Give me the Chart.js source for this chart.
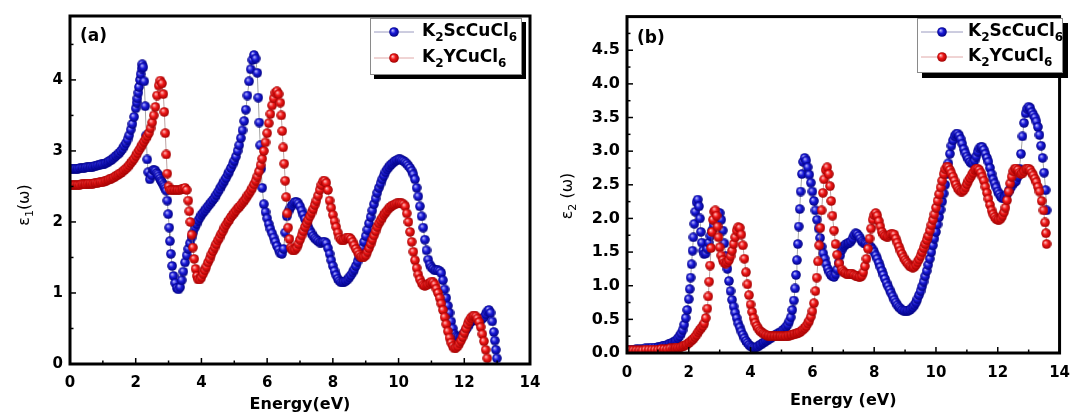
<!DOCTYPE html>
<html lang="en">
<head>
<meta charset="UTF-8">
<title>Dielectric function</title>
<script src="https://cdn.jsdelivr.net/npm/chart.js"></script>
<style>
  body { margin: 0; background: #fff; width: 1081px; height: 417px; overflow: hidden; position: relative; }
  canvas { position: absolute; top: 0; }
  #chartA { left: 0; }
  #chartB { left: 560px; }
</style>
</head>
<body>
<canvas id="chartA" width="560" height="417"></canvas>
<canvas id="chartB" width="521" height="417"></canvas>
<script>
// series names (digits are drawn as subscripts)
const seriesNames = ['K2ScCuCl6', 'K2YCuCl6']

// (a) real part eps1, [energy eV, value]
const scEps1 = [
  [0, 2.75], [0.05, 2.75], [0.1, 2.75], [0.15, 2.75], [0.2, 2.75], [0.25, 2.75], [0.3, 2.76], [0.35, 2.76],
  [0.4, 2.76], [0.45, 2.76], [0.5, 2.77], [0.55, 2.77], [0.6, 2.77], [0.65, 2.78], [0.7, 2.78], [0.75, 2.79],
  [0.8, 2.79], [0.85, 2.80], [0.9, 2.80], [0.95, 2.81], [1.0, 2.81], [1.05, 2.82], [1.1, 2.83], [1.15, 2.84],
  [1.2, 2.86], [1.25, 2.87], [1.3, 2.89], [1.35, 2.91], [1.4, 2.93], [1.45, 2.95], [1.5, 2.97], [1.55, 3.00],
  [1.6, 3.03], [1.65, 3.07], [1.7, 3.11], [1.75, 3.16], [1.8, 3.22], [1.85, 3.30], [1.9, 3.38], [1.95, 3.48],
  [2.0, 3.60], [2.03, 3.68], [2.05, 3.74], [2.08, 3.82], [2.1, 3.90], [2.13, 4.00], [2.15, 4.08], [2.18, 4.16],
  [2.2, 4.22], [2.23, 4.18], [2.26, 3.98], [2.29, 3.63], [2.32, 3.22], [2.35, 2.88], [2.38, 2.70], [2.43, 2.60],
  [2.48, 2.66], [2.53, 2.73], [2.57, 2.73], [2.6, 2.72], [2.64, 2.69], [2.67, 2.67], [2.7, 2.64], [2.74, 2.61],
  [2.77, 2.58], [2.8, 2.56], [2.84, 2.53], [2.87, 2.50], [2.9, 2.47], [2.93, 2.44], [2.96, 2.30], [2.99, 2.11],
  [3.02, 1.92], [3.04, 1.73], [3.07, 1.55], [3.11, 1.38], [3.15, 1.24], [3.2, 1.14], [3.25, 1.07], [3.3, 1.05],
  [3.35, 1.08], [3.4, 1.18], [3.45, 1.30], [3.5, 1.43], [3.55, 1.53], [3.6, 1.62], [3.65, 1.70], [3.7, 1.78],
  [3.75, 1.85], [3.8, 1.92], [3.85, 1.97], [3.9, 2.02], [3.95, 2.06], [4.0, 2.10], [4.05, 2.13], [4.1, 2.16],
  [4.15, 2.19], [4.2, 2.22], [4.25, 2.25], [4.3, 2.28], [4.35, 2.31], [4.4, 2.34], [4.45, 2.38], [4.5, 2.42],
  [4.55, 2.46], [4.6, 2.50], [4.65, 2.54], [4.7, 2.58], [4.75, 2.62], [4.8, 2.67], [4.85, 2.71], [4.9, 2.76],
  [4.95, 2.81], [5.0, 2.86], [5.05, 2.92], [5.1, 3.00], [5.15, 3.08], [5.2, 3.18], [5.25, 3.29], [5.3, 3.42],
  [5.35, 3.58], [5.4, 3.78], [5.45, 3.98], [5.5, 4.15], [5.55, 4.28], [5.6, 4.35], [5.65, 4.30], [5.7, 4.10],
  [5.73, 3.75], [5.76, 3.40], [5.79, 3.08], [5.82, 2.75], [5.85, 2.48], [5.9, 2.25], [5.95, 2.14], [6.0, 2.05],
  [6.05, 1.97], [6.1, 1.90], [6.15, 1.84], [6.2, 1.78], [6.25, 1.72], [6.3, 1.66], [6.35, 1.61], [6.4, 1.56],
  [6.45, 1.55], [6.5, 1.62], [6.55, 1.85], [6.6, 2.08], [6.65, 2.15], [6.7, 2.20], [6.75, 2.23], [6.8, 2.26],
  [6.85, 2.28], [6.9, 2.28], [6.95, 2.26], [7.0, 2.22], [7.05, 2.16], [7.1, 2.10], [7.15, 2.04], [7.2, 1.98],
  [7.25, 1.93], [7.3, 1.88], [7.35, 1.84], [7.4, 1.80], [7.45, 1.77], [7.5, 1.75], [7.55, 1.73], [7.6, 1.71],
  [7.65, 1.71], [7.7, 1.72], [7.75, 1.72], [7.8, 1.70], [7.85, 1.63], [7.9, 1.55], [7.95, 1.46], [8.0, 1.38],
  [8.05, 1.31], [8.1, 1.25], [8.15, 1.20], [8.2, 1.17], [8.25, 1.15], [8.3, 1.15], [8.35, 1.16], [8.4, 1.17],
  [8.45, 1.19], [8.5, 1.22], [8.55, 1.25], [8.6, 1.29], [8.65, 1.33], [8.7, 1.38], [8.75, 1.44], [8.8, 1.50],
  [8.85, 1.57], [8.9, 1.64], [8.95, 1.72], [9.0, 1.80], [9.05, 1.89], [9.1, 1.98], [9.15, 2.07], [9.2, 2.16],
  [9.25, 2.25], [9.3, 2.33], [9.35, 2.41], [9.4, 2.48], [9.45, 2.54], [9.5, 2.60], [9.55, 2.65], [9.6, 2.70],
  [9.65, 2.74], [9.7, 2.77], [9.75, 2.80], [9.8, 2.82], [9.85, 2.84], [9.9, 2.86], [9.95, 2.87], [10.0, 2.88],
  [10.05, 2.88], [10.1, 2.87], [10.15, 2.86], [10.2, 2.84], [10.25, 2.82], [10.3, 2.79], [10.35, 2.76], [10.4, 2.72],
  [10.45, 2.67], [10.5, 2.60], [10.55, 2.48], [10.6, 2.36], [10.65, 2.22], [10.7, 2.08], [10.75, 1.92], [10.8, 1.75],
  [10.85, 1.60], [10.9, 1.47], [10.95, 1.40], [11.0, 1.36], [11.05, 1.34], [11.1, 1.32], [11.15, 1.32], [11.2, 1.32],
  [11.25, 1.31], [11.3, 1.28], [11.35, 1.18], [11.4, 1.05], [11.45, 0.93], [11.5, 0.82], [11.55, 0.72], [11.6, 0.60],
  [11.65, 0.50], [11.7, 0.42], [11.75, 0.39], [11.8, 0.38], [11.85, 0.37], [11.9, 0.38], [11.95, 0.41], [12.0, 0.44],
  [12.05, 0.48], [12.1, 0.52], [12.15, 0.56], [12.2, 0.60], [12.25, 0.61], [12.3, 0.62], [12.35, 0.62], [12.4, 0.62],
  [12.45, 0.62], [12.5, 0.62], [12.55, 0.64], [12.6, 0.66], [12.65, 0.70], [12.7, 0.74], [12.75, 0.76], [12.8, 0.72],
  [12.85, 0.60], [12.9, 0.45], [12.93, 0.33], [12.96, 0.20], [12.99, 0.08]
]
const yEps1 = [
  [0, 2.52], [0.05, 2.52], [0.1, 2.52], [0.15, 2.52], [0.2, 2.52], [0.25, 2.52], [0.3, 2.52], [0.35, 2.53],
  [0.4, 2.53], [0.45, 2.53], [0.5, 2.53], [0.55, 2.54], [0.6, 2.54], [0.65, 2.54], [0.7, 2.54], [0.75, 2.55],
  [0.8, 2.55], [0.85, 2.55], [0.9, 2.56], [0.95, 2.56], [1.0, 2.56], [1.05, 2.57], [1.1, 2.58], [1.15, 2.59],
  [1.2, 2.60], [1.25, 2.61], [1.3, 2.62], [1.35, 2.63], [1.4, 2.65], [1.45, 2.66], [1.5, 2.68], [1.55, 2.69],
  [1.6, 2.71], [1.65, 2.73], [1.7, 2.75], [1.75, 2.77], [1.8, 2.80], [1.85, 2.83], [1.9, 2.86], [1.95, 2.89],
  [2.0, 2.93], [2.05, 2.97], [2.1, 3.01], [2.15, 3.05], [2.2, 3.09], [2.25, 3.13], [2.3, 3.17], [2.35, 3.21],
  [2.4, 3.25], [2.45, 3.32], [2.5, 3.40], [2.55, 3.50], [2.6, 3.62], [2.65, 3.78], [2.7, 3.92], [2.75, 3.99],
  [2.8, 3.95], [2.84, 3.80], [2.87, 3.55], [2.9, 3.25], [2.93, 2.95], [2.96, 2.68], [3.0, 2.50], [3.05, 2.45],
  [3.1, 2.45], [3.15, 2.45], [3.2, 2.45], [3.25, 2.45], [3.3, 2.45], [3.35, 2.45], [3.4, 2.46], [3.45, 2.47],
  [3.5, 2.48], [3.55, 2.45], [3.6, 2.30], [3.63, 2.15], [3.66, 2.00], [3.7, 1.82], [3.74, 1.64], [3.78, 1.48],
  [3.82, 1.34], [3.86, 1.24], [3.9, 1.19], [3.95, 1.19], [4.0, 1.22], [4.05, 1.27], [4.1, 1.32], [4.15, 1.37],
  [4.2, 1.43], [4.25, 1.48], [4.3, 1.54], [4.35, 1.59], [4.4, 1.64], [4.45, 1.69], [4.5, 1.74], [4.55, 1.78],
  [4.6, 1.83], [4.65, 1.87], [4.7, 1.92], [4.75, 1.96], [4.8, 2.00], [4.85, 2.03], [4.9, 2.07], [4.95, 2.10],
  [5.0, 2.13], [5.05, 2.16], [5.1, 2.19], [5.15, 2.21], [5.2, 2.24], [5.25, 2.27], [5.3, 2.30], [5.35, 2.33],
  [5.4, 2.37], [5.45, 2.40], [5.5, 2.44], [5.55, 2.48], [5.6, 2.53], [5.65, 2.58], [5.7, 2.64], [5.75, 2.71],
  [5.8, 2.80], [5.85, 2.89], [5.9, 3.00], [5.95, 3.12], [6.0, 3.25], [6.05, 3.39], [6.1, 3.52], [6.15, 3.64],
  [6.2, 3.74], [6.25, 3.82], [6.3, 3.84], [6.35, 3.80], [6.4, 3.68], [6.43, 3.50], [6.46, 3.28], [6.49, 3.05],
  [6.52, 2.82], [6.55, 2.58], [6.58, 2.35], [6.61, 2.12], [6.64, 1.92], [6.68, 1.76], [6.72, 1.64], [6.76, 1.61],
  [6.8, 1.60], [6.85, 1.61], [6.9, 1.64], [6.95, 1.69], [7.0, 1.75], [7.05, 1.81], [7.1, 1.87], [7.15, 1.93],
  [7.2, 1.98], [7.25, 2.03], [7.3, 2.08], [7.35, 2.13], [7.4, 2.18], [7.45, 2.24], [7.5, 2.30], [7.55, 2.37],
  [7.6, 2.45], [7.65, 2.52], [7.7, 2.57], [7.75, 2.58], [7.8, 2.55], [7.85, 2.45], [7.9, 2.30], [7.95, 2.20],
  [8.0, 2.10], [8.05, 2.01], [8.1, 1.93], [8.15, 1.85], [8.2, 1.78], [8.25, 1.75], [8.3, 1.74], [8.35, 1.75],
  [8.4, 1.77], [8.45, 1.78], [8.5, 1.78], [8.55, 1.76], [8.6, 1.72], [8.65, 1.67], [8.7, 1.62], [8.75, 1.58],
  [8.8, 1.54], [8.85, 1.51], [8.9, 1.50], [8.95, 1.51], [9.0, 1.53], [9.05, 1.58], [9.1, 1.63], [9.15, 1.69],
  [9.2, 1.75], [9.25, 1.81], [9.3, 1.87], [9.35, 1.93], [9.4, 1.98], [9.45, 2.02], [9.5, 2.06], [9.55, 2.10],
  [9.6, 2.13], [9.65, 2.16], [9.7, 2.19], [9.75, 2.21], [9.8, 2.23], [9.85, 2.24], [9.9, 2.25], [9.95, 2.26],
  [10.0, 2.26], [10.05, 2.26], [10.1, 2.26], [10.15, 2.25], [10.2, 2.22], [10.25, 2.12], [10.3, 2.00], [10.35, 1.86],
  [10.4, 1.72], [10.45, 1.58], [10.5, 1.46], [10.55, 1.35], [10.6, 1.26], [10.65, 1.19], [10.7, 1.14], [10.75, 1.11],
  [10.8, 1.10], [10.85, 1.11], [10.9, 1.12], [10.95, 1.14], [11.0, 1.16], [11.05, 1.15], [11.1, 1.12], [11.15, 1.06],
  [11.2, 1.00], [11.25, 0.93], [11.3, 0.85], [11.35, 0.76], [11.4, 0.66], [11.45, 0.56], [11.5, 0.46], [11.55, 0.37],
  [11.6, 0.30], [11.65, 0.25], [11.7, 0.22], [11.75, 0.23], [11.8, 0.25], [11.85, 0.29], [11.9, 0.33], [11.95, 0.38],
  [12.0, 0.44], [12.05, 0.50], [12.1, 0.56], [12.15, 0.61], [12.2, 0.65], [12.25, 0.67], [12.3, 0.68], [12.35, 0.67],
  [12.4, 0.64], [12.45, 0.59], [12.5, 0.52], [12.55, 0.42], [12.6, 0.32], [12.65, 0.20], [12.7, 0.08], [12.75, -0.05]
]

// (b) imaginary part eps2, [energy eV, value]
const scEps2 = [
  [0, 0.05], [0.1, 0.05], [0.2, 0.05], [0.3, 0.06], [0.4, 0.06], [0.5, 0.06], [0.6, 0.07], [0.7, 0.07],
  [0.8, 0.08], [0.9, 0.08], [1.0, 0.09], [1.05, 0.09], [1.1, 0.09], [1.15, 0.10], [1.2, 0.11], [1.25, 0.11],
  [1.3, 0.12], [1.35, 0.13], [1.4, 0.14], [1.45, 0.15], [1.5, 0.16], [1.55, 0.17], [1.6, 0.19], [1.65, 0.22],
  [1.7, 0.25], [1.75, 0.29], [1.8, 0.34], [1.85, 0.42], [1.9, 0.52], [1.95, 0.64], [2.0, 0.80], [2.03, 0.95],
  [2.06, 1.12], [2.09, 1.32], [2.12, 1.52], [2.15, 1.72], [2.18, 1.92], [2.21, 2.10], [2.25, 2.24], [2.29, 2.28],
  [2.33, 2.18], [2.36, 2.00], [2.39, 1.80], [2.42, 1.64], [2.46, 1.52], [2.5, 1.47], [2.55, 1.48], [2.6, 1.55],
  [2.65, 1.64], [2.7, 1.74], [2.75, 1.82], [2.8, 1.90], [2.85, 1.97], [2.9, 2.04], [2.95, 2.08], [3.0, 2.08],
  [3.05, 1.98], [3.1, 1.82], [3.15, 1.63], [3.2, 1.44], [3.25, 1.25], [3.3, 1.07], [3.35, 0.92], [3.4, 0.79],
  [3.45, 0.69], [3.5, 0.60], [3.55, 0.52], [3.6, 0.44], [3.65, 0.38], [3.7, 0.32], [3.75, 0.27], [3.8, 0.22],
  [3.85, 0.18], [3.9, 0.15], [3.95, 0.12], [4.0, 0.10], [4.05, 0.09], [4.1, 0.08], [4.15, 0.08], [4.2, 0.09],
  [4.25, 0.10], [4.3, 0.12], [4.35, 0.13], [4.4, 0.15], [4.45, 0.16], [4.5, 0.18], [4.55, 0.19], [4.6, 0.21],
  [4.65, 0.22], [4.7, 0.24], [4.75, 0.25], [4.8, 0.27], [4.85, 0.28], [4.9, 0.29], [4.95, 0.30], [5.0, 0.32],
  [5.05, 0.34], [5.1, 0.36], [5.15, 0.39], [5.2, 0.42], [5.25, 0.47], [5.3, 0.53], [5.35, 0.64], [5.4, 0.78],
  [5.44, 0.96], [5.47, 1.16], [5.5, 1.38], [5.53, 1.62], [5.56, 1.88], [5.59, 2.14], [5.62, 2.40], [5.66, 2.66],
  [5.7, 2.84], [5.75, 2.90], [5.8, 2.86], [5.85, 2.76], [5.9, 2.65], [5.95, 2.53], [6.0, 2.40], [6.05, 2.26],
  [6.1, 2.12], [6.15, 1.98], [6.2, 1.85], [6.25, 1.71], [6.3, 1.58], [6.35, 1.48], [6.4, 1.40], [6.45, 1.32],
  [6.5, 1.25], [6.55, 1.20], [6.6, 1.16], [6.65, 1.14], [6.7, 1.13], [6.75, 1.17], [6.8, 1.24], [6.85, 1.34],
  [6.9, 1.45], [6.95, 1.53], [7.0, 1.58], [7.05, 1.60], [7.1, 1.62], [7.15, 1.63], [7.2, 1.64], [7.25, 1.66],
  [7.3, 1.70], [7.35, 1.75], [7.4, 1.78], [7.45, 1.77], [7.5, 1.74], [7.55, 1.70], [7.6, 1.66], [7.65, 1.64],
  [7.7, 1.63], [7.75, 1.62], [7.8, 1.60], [7.85, 1.59], [7.9, 1.57], [7.95, 1.54], [8.0, 1.50], [8.05, 1.45],
  [8.1, 1.40], [8.15, 1.34], [8.2, 1.28], [8.25, 1.22], [8.3, 1.16], [8.35, 1.10], [8.4, 1.04], [8.45, 0.99],
  [8.5, 0.94], [8.55, 0.89], [8.6, 0.84], [8.65, 0.79], [8.7, 0.75], [8.75, 0.71], [8.8, 0.68], [8.85, 0.66],
  [8.9, 0.64], [8.95, 0.63], [9.0, 0.63], [9.05, 0.63], [9.1, 0.63], [9.15, 0.64], [9.2, 0.66], [9.25, 0.68],
  [9.3, 0.71], [9.35, 0.75], [9.4, 0.80], [9.45, 0.86], [9.5, 0.92], [9.55, 0.99], [9.6, 1.06], [9.65, 1.14],
  [9.7, 1.22], [9.75, 1.31], [9.8, 1.40], [9.85, 1.50], [9.9, 1.60], [9.95, 1.70], [10.0, 1.80], [10.05, 1.91],
  [10.1, 2.02], [10.15, 2.13], [10.2, 2.25], [10.25, 2.37], [10.3, 2.50], [10.35, 2.66], [10.4, 2.82], [10.45, 2.96],
  [10.5, 3.08], [10.55, 3.16], [10.6, 3.22], [10.65, 3.25], [10.7, 3.26], [10.75, 3.23], [10.8, 3.18], [10.85, 3.11],
  [10.9, 3.03], [10.95, 2.97], [11.0, 2.92], [11.05, 2.88], [11.1, 2.84], [11.15, 2.82], [11.2, 2.82], [11.25, 2.86],
  [11.3, 2.92], [11.35, 2.99], [11.4, 3.04], [11.45, 3.06], [11.5, 3.06], [11.55, 3.02], [11.6, 2.96], [11.65, 2.90],
  [11.7, 2.84], [11.75, 2.75], [11.8, 2.66], [11.85, 2.58], [11.9, 2.52], [11.95, 2.46], [12.0, 2.40], [12.05, 2.36],
  [12.1, 2.32], [12.15, 2.30], [12.2, 2.30], [12.25, 2.33], [12.3, 2.36], [12.35, 2.40], [12.4, 2.44], [12.45, 2.48],
  [12.5, 2.52], [12.55, 2.54], [12.6, 2.56], [12.65, 2.62], [12.7, 2.74], [12.75, 2.96], [12.8, 3.22], [12.85, 3.42],
  [12.9, 3.56], [12.95, 3.63], [13.0, 3.66], [13.05, 3.64], [13.1, 3.58], [13.15, 3.54], [13.2, 3.50], [13.25, 3.44],
  [13.3, 3.36], [13.35, 3.24], [13.4, 3.08], [13.45, 2.90], [13.5, 2.68], [13.55, 2.42], [13.58, 2.12]
]
const yEps2 = [
  [0, 0.04], [0.1, 0.04], [0.2, 0.04], [0.3, 0.04], [0.4, 0.04], [0.5, 0.04], [0.6, 0.05], [0.7, 0.05],
  [0.8, 0.05], [0.9, 0.05], [1.0, 0.05], [1.1, 0.06], [1.2, 0.06], [1.3, 0.06], [1.4, 0.07], [1.5, 0.07],
  [1.55, 0.07], [1.6, 0.08], [1.65, 0.08], [1.7, 0.08], [1.75, 0.09], [1.8, 0.10], [1.85, 0.11], [1.9, 0.12],
  [1.95, 0.13], [2.0, 0.15], [2.05, 0.17], [2.1, 0.19], [2.15, 0.21], [2.2, 0.24], [2.25, 0.27], [2.3, 0.31],
  [2.35, 0.34], [2.4, 0.37], [2.45, 0.40], [2.5, 0.44], [2.55, 0.52], [2.6, 0.66], [2.63, 0.84], [2.66, 1.06],
  [2.69, 1.30], [2.72, 1.56], [2.75, 1.80], [2.78, 1.98], [2.82, 2.10], [2.86, 2.12], [2.9, 2.04], [2.93, 1.88],
  [2.96, 1.72], [3.0, 1.57], [3.05, 1.45], [3.1, 1.38], [3.15, 1.34], [3.2, 1.33], [3.25, 1.35], [3.3, 1.38],
  [3.35, 1.44], [3.4, 1.52], [3.45, 1.62], [3.5, 1.72], [3.55, 1.82], [3.6, 1.87], [3.65, 1.86], [3.7, 1.76],
  [3.75, 1.60], [3.8, 1.40], [3.85, 1.20], [3.9, 1.02], [3.95, 0.86], [4.0, 0.72], [4.05, 0.61], [4.1, 0.52],
  [4.15, 0.45], [4.2, 0.40], [4.25, 0.36], [4.3, 0.33], [4.35, 0.31], [4.4, 0.29], [4.45, 0.28], [4.5, 0.27],
  [4.55, 0.26], [4.6, 0.26], [4.65, 0.25], [4.7, 0.25], [4.75, 0.25], [4.8, 0.25], [4.85, 0.25], [4.9, 0.25],
  [4.95, 0.25], [5.0, 0.25], [5.05, 0.25], [5.1, 0.25], [5.15, 0.25], [5.2, 0.26], [5.25, 0.26], [5.3, 0.27],
  [5.35, 0.27], [5.4, 0.28], [5.45, 0.28], [5.5, 0.29], [5.55, 0.30], [5.6, 0.31], [5.65, 0.33], [5.7, 0.35],
  [5.75, 0.37], [5.8, 0.40], [5.85, 0.44], [5.9, 0.48], [5.95, 0.54], [6.0, 0.62], [6.05, 0.74], [6.1, 0.92],
  [6.14, 1.12], [6.18, 1.36], [6.22, 1.60], [6.26, 1.86], [6.3, 2.12], [6.34, 2.38], [6.38, 2.58], [6.43, 2.72],
  [6.48, 2.76], [6.53, 2.66], [6.57, 2.48], [6.61, 2.26], [6.65, 2.04], [6.7, 1.82], [6.75, 1.62], [6.8, 1.46],
  [6.87, 1.33], [6.95, 1.24], [7.0, 1.21], [7.05, 1.19], [7.1, 1.18], [7.15, 1.17], [7.2, 1.17], [7.25, 1.18],
  [7.3, 1.17], [7.35, 1.16], [7.4, 1.15], [7.45, 1.14], [7.5, 1.13], [7.55, 1.13], [7.6, 1.15], [7.65, 1.20],
  [7.7, 1.29], [7.75, 1.40], [7.8, 1.55], [7.85, 1.70], [7.9, 1.85], [7.95, 1.98], [8.0, 2.05], [8.05, 2.08],
  [8.1, 2.04], [8.15, 1.96], [8.2, 1.88], [8.25, 1.80], [8.3, 1.76], [8.35, 1.74], [8.4, 1.73], [8.45, 1.73],
  [8.5, 1.75], [8.55, 1.77], [8.6, 1.77], [8.65, 1.76], [8.7, 1.70], [8.75, 1.64], [8.8, 1.58], [8.85, 1.52],
  [8.9, 1.47], [8.95, 1.42], [9.0, 1.38], [9.05, 1.35], [9.1, 1.32], [9.15, 1.29], [9.2, 1.28], [9.25, 1.27],
  [9.3, 1.28], [9.35, 1.31], [9.4, 1.35], [9.45, 1.39], [9.5, 1.44], [9.55, 1.50], [9.6, 1.56], [9.65, 1.62],
  [9.7, 1.68], [9.75, 1.74], [9.8, 1.82], [9.85, 1.90], [9.9, 1.98], [9.95, 2.06], [10.0, 2.16], [10.05, 2.26],
  [10.1, 2.36], [10.15, 2.46], [10.2, 2.56], [10.25, 2.66], [10.3, 2.73], [10.35, 2.77], [10.4, 2.76], [10.45, 2.72],
  [10.5, 2.67], [10.55, 2.62], [10.6, 2.56], [10.65, 2.50], [10.7, 2.45], [10.75, 2.42], [10.8, 2.40], [10.85, 2.40],
  [10.9, 2.42], [10.95, 2.46], [11.0, 2.51], [11.05, 2.56], [11.1, 2.60], [11.15, 2.64], [11.2, 2.68], [11.25, 2.72],
  [11.3, 2.74], [11.35, 2.74], [11.4, 2.72], [11.45, 2.68], [11.5, 2.62], [11.55, 2.56], [11.6, 2.47], [11.65, 2.38],
  [11.7, 2.29], [11.75, 2.20], [11.8, 2.12], [11.85, 2.06], [11.9, 2.02], [11.95, 1.99], [12.0, 1.98], [12.05, 1.98],
  [12.1, 2.00], [12.15, 2.04], [12.2, 2.09], [12.25, 2.16], [12.3, 2.27], [12.35, 2.40], [12.4, 2.52], [12.45, 2.62],
  [12.5, 2.70], [12.55, 2.74], [12.6, 2.74], [12.65, 2.72], [12.7, 2.68], [12.75, 2.66], [12.8, 2.67], [12.85, 2.70],
  [12.9, 2.73], [12.95, 2.74], [13.0, 2.74], [13.05, 2.72], [13.1, 2.68], [13.15, 2.64], [13.2, 2.59], [13.25, 2.54],
  [13.3, 2.47], [13.35, 2.40], [13.42, 2.26], [13.48, 2.12], [13.53, 1.94], [13.56, 1.78], [13.58, 1.62]
]

const FONT = '"DejaVu Sans", sans-serif'

// shaded ball used as point marker
function makeBall(light, base, dark, d) {
  const c = document.createElement('canvas')
  c.width = c.height = d
  const g = c.getContext('2d')
  const r = d / 2
  const grad = g.createRadialGradient(r * 0.7, r * 0.65, r * 0.05, r, r, r)
  grad.addColorStop(0, light)
  grad.addColorStop(0.45, base)
  grad.addColorStop(1, dark)
  g.fillStyle = grad
  g.beginPath()
  g.arc(r, r, r - 0.2, 0, Math.PI * 2)
  g.fill()
  return c
}
const blueBall = makeBall('#b8b8ff', '#1a1ad8', '#00007a', 10)
const redBall = makeBall('#ffc0c0', '#f01818', '#9a0000', 10)

// text with subscript parts: [[text, isSub], ...]
function richText(ctx, parts, x, y, size, weight, align) {
  const subSize = Math.round(size * 0.68)
  let total = 0
  parts.forEach(([t, sub]) => {
    ctx.font = `${weight} ${sub ? subSize : size}px ${FONT}`
    total += ctx.measureText(t).width
  })
  let cx = align === 'center' ? x - total / 2 : x
  parts.forEach(([t, sub]) => {
    ctx.font = `${weight} ${sub ? subSize : size}px ${FONT}`
    ctx.fillText(t, cx, sub ? y + size * 0.32 : y)
    cx += ctx.measureText(t).width
  })
}
const chemParts = name => name.match(/\d+|\D+/g).map(p => [p, /\d/.test(p)])

const framePlugin = {
  id: 'frame',
  afterDraw(chart, args, o) {
    const { ctx, chartArea: a, scales: { x, y } } = chart
    ctx.save()
    ctx.strokeStyle = '#000'
    ctx.fillStyle = '#000'
    // inward ticks
    ctx.lineWidth = 1.5
    for (let v = x.min; v <= x.max + 1e-9; v += o.minorX) {
      const px = x.getPixelForValue(v)
      const major = Math.abs(v / o.majorX - Math.round(v / o.majorX)) < 1e-6
      ctx.beginPath(); ctx.moveTo(px, a.bottom); ctx.lineTo(px, a.bottom - (major ? 6 : 3.5)); ctx.stroke()
    }
    for (let v = y.min; v < y.max - 1e-9; v += o.minorY) {
      const py = y.getPixelForValue(v)
      const major = Math.abs(v / o.majorY - Math.round(v / o.majorY)) < 1e-6
      ctx.beginPath(); ctx.moveTo(a.left, py); ctx.lineTo(a.left + (major ? 6 : 3.5), py); ctx.stroke()
    }
    // frame
    ctx.lineWidth = 3
    ctx.strokeRect(a.left, a.top, a.right - a.left, a.bottom - a.top)

    // panel label
    ctx.textBaseline = 'alphabetic'
    ctx.textAlign = 'left'
    ctx.font = `bold 17px ${FONT}`
    ctx.fillText(o.panel, o.panelX, o.panelY)

    // x title
    ctx.textAlign = 'center'
    ctx.textBaseline = 'middle'
    ctx.font = `bold 16px ${FONT}`
    ctx.fillText(o.xTitle, (a.left + a.right) / 2, o.xTitleY)

    // y title
    ctx.save()
    ctx.translate(o.yTitleX, o.yTitleY)
    ctx.rotate(-Math.PI / 2)
    ctx.textAlign = 'left'
    richText(ctx, o.yTitle, 0, 0, 16, 'normal', 'center')
    ctx.restore()

    // legend box with shadow
    const L = o.legend
    ctx.fillStyle = '#000'
    ctx.fillRect(L.x + L.shadow, L.y + L.shadow, L.w, L.h)
    ctx.fillStyle = '#fff'
    ctx.fillRect(L.x, L.y, L.w, L.h)
    ctx.strokeStyle = '#8a8a8a'
    ctx.lineWidth = 1
    ctx.strokeRect(L.x + 0.5, L.y + 0.5, L.w - 1, L.h - 1)
    chart.data.datasets.forEach((ds, i) => {
      const ry = L.rows[i]
      ctx.strokeStyle = ds.legendLine
      ctx.lineWidth = 1
      ctx.beginPath(); ctx.moveTo(L.lineX0, ry); ctx.lineTo(L.lineX1, ry); ctx.stroke()
      ctx.drawImage(ds.pointStyle, L.ballX - 5, ry - 5)
      ctx.fillStyle = '#000'
      ctx.textAlign = 'left'
      ctx.textBaseline = 'middle'
      richText(ctx, chemParts(ds.label), L.textX, ry, 17, 'bold', 'left')
    })
    ctx.restore()
  }
}

function makeDatasets(scPts, yPts) {
  return [
    {
      label: seriesNames[0],
      data: scPts.map(([e, v]) => ({ x: e, y: v })),
      showLine: true,
      borderColor: 'rgba(110,110,110,0.8)',
      borderWidth: 0.8,
      pointStyle: blueBall,
      pointRadius: 5,
      legendLine: '#9a9ac0',
      order: 2
    },
    {
      label: seriesNames[1],
      data: yPts.map(([e, v]) => ({ x: e, y: v })),
      showLine: true,
      borderColor: 'rgba(150,110,110,0.8)',
      borderWidth: 0.8,
      pointStyle: redBall,
      pointRadius: 5,
      legendLine: '#e0a8a8',
      order: 1
    }
  ]
}

function xScale(fontSize, pad, height) {
  return {
    type: 'linear', min: 0, max: 14,
    grid: { display: false, drawTicks: false },
    border: { display: false },
    ticks: { stepSize: 2, color: '#000', padding: pad, font: { family: FONT, size: fontSize, weight: 'bold' }, maxRotation: 0 },
    afterFit: s => { s.height = height }
  }
}

// panel (a)
new Chart(document.getElementById('chartA'), {
  type: 'scatter',
  data: { datasets: makeDatasets(scEps1, yEps1) },
  options: {
    responsive: false, animation: false,
    layout: { padding: { left: 0, top: 13, right: 30, bottom: 0 } },
    scales: {
      x: xScale(15, 10, 53),
      y: {
        type: 'linear', min: 0, max: 4.9,
        grid: { display: false, drawTicks: false },
        border: { display: false },
        ticks: { stepSize: 1, color: '#000', padding: 7, font: { family: FONT, size: 15, weight: 'bold' } },
        afterBuildTicks: s => { s.ticks = s.ticks.filter(t => Number.isInteger(t.value)) },
        afterFit: s => { s.width = 70 }
      }
    },
    plugins: {
      legend: { display: false }, tooltip: { enabled: false },
      frame: {
        majorX: 2, minorX: 1, majorY: 1, minorY: 0.5,
        panel: '(a)', panelX: 80, panelY: 41,
        xTitle: 'Energy(eV)', xTitleY: 405,
        yTitle: [['ε', false], ['1', true], ['(ω)', false]], yTitleX: 25, yTitleY: 205,
        legend: { x: 370, y: 18, w: 152, h: 57, shadow: 4, rows: [32, 58], lineX0: 374, lineX1: 414, ballX: 394, textX: 422 }
      }
    }
  },
  plugins: [framePlugin]
})

// panel (b)
new Chart(document.getElementById('chartB'), {
  type: 'scatter',
  data: { datasets: makeDatasets(scEps2, yEps2) },
  options: {
    responsive: false, animation: false,
    layout: { padding: { left: 0, top: 13, right: 12, bottom: 0 } },
    scales: {
      x: xScale(15, 11, 64),
      y: {
        type: 'linear', min: 0, max: 5,
        grid: { display: false, drawTicks: false },
        border: { display: false },
        ticks: { stepSize: 0.5, color: '#000', padding: 7, font: { family: FONT, size: 16, weight: 'bold' }, callback: v => v.toFixed(1) },
        afterBuildTicks: s => { s.ticks = s.ticks.filter(t => t.value < 4.75) },
        afterFit: s => { s.width = 67 }
      }
    },
    plugins: {
      legend: { display: false }, tooltip: { enabled: false },
      frame: {
        majorX: 2, minorX: 1, majorY: 0.5, minorY: 0.25,
        panel: '(b)', panelX: 77, panelY: 43,
        xTitle: 'Energy (eV)', xTitleY: 401,
        yTitle: [['ε', false], ['2', true], [' (ω)', false]], yTitleX: 8, yTitleY: 196,
        legend: { x: 357, y: 18, w: 146, h: 55, shadow: 5, rows: [32, 57], lineX0: 361, lineX1: 403, ballX: 382, textX: 408 }
      }
    }
  },
  plugins: [framePlugin]
})
</script>
</body>
</html>
